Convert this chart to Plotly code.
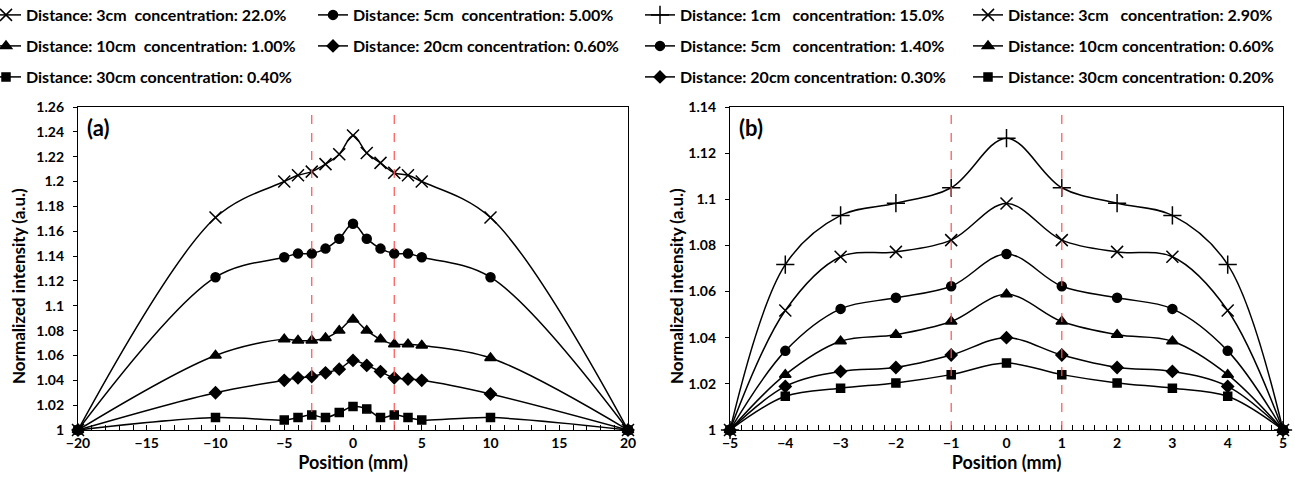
import plotly.graph_objects as go

# ---------------- data (a) ----------------
pos_a = [-20, -10, -5, -4, -3, -2, -1, 0, 1, 2, 3, 4, 5, 10, 20]
a_3cm = [1.0, 1.171, 1.200, 1.205, 1.208, 1.214, 1.222, 1.237, 1.223, 1.215, 1.207, 1.205, 1.200, 1.171, 1.0]
a_5cm = [1.0, 1.123, 1.139, 1.142, 1.142, 1.146, 1.154, 1.166, 1.154, 1.146, 1.142, 1.142, 1.139, 1.123, 1.0]
a_10cm = [1.0, 1.060, 1.073, 1.072, 1.072, 1.074, 1.080, 1.089, 1.080, 1.073, 1.069, 1.069, 1.068, 1.058, 1.0]
a_20cm = [1.0, 1.030, 1.040, 1.042, 1.043, 1.046, 1.049, 1.056, 1.052, 1.047, 1.042, 1.041, 1.040, 1.029, 1.0]
a_30cm = [1.0, 1.010, 1.008, 1.010, 1.012, 1.010, 1.014, 1.019, 1.017, 1.010, 1.012, 1.010, 1.008, 1.010, 1.0]
names_a = [
    "Distance: 3cm\u00a0\u00a0concentration: 22.0%",
    "Distance: 5cm\u00a0\u00a0concentration: 5.00%",
    "Distance: 10cm\u00a0\u00a0concentration: 1.00%",
    "Distance: 20cm concentration: 0.60%",
    "Distance: 30cm concentration: 0.40%",
]
symbols_a = ["x-thin-open", "circle", "triangle-up", "diamond", "square"]
vlines_a = [-3, 3]

# ---------------- data (b) ----------------
pos_b = [-5, -4, -3, -2, -1, 0, 1, 2, 3, 4, 5]
b_1cm = [1.0, 1.0717, 1.0930, 1.0983, 1.1050, 1.1265, 1.1050, 1.0983, 1.0930, 1.0717, 1.0]
b_3cm = [1.0, 1.0518, 1.0751, 1.0772, 1.0823, 1.0982, 1.0823, 1.0772, 1.0751, 1.0518, 1.0]
b_5cm = [1.0, 1.0343, 1.0525, 1.0573, 1.0623, 1.0763, 1.0623, 1.0573, 1.0525, 1.0343, 1.0]
b_10cm = [1.0, 1.0240, 1.0385, 1.0413, 1.0470, 1.0588, 1.0470, 1.0413, 1.0385, 1.0240, 1.0]
b_20cm = [1.0, 1.0189, 1.0254, 1.0271, 1.0325, 1.0400, 1.0325, 1.0271, 1.0254, 1.0189, 1.0]
b_30cm = [1.0, 1.0146, 1.0181, 1.0204, 1.0240, 1.0290, 1.0240, 1.0204, 1.0181, 1.0146, 1.0]
names_b = [
    "Distance: 1cm\u00a0\u00a0\u00a0concentration: 15.0%",
    "Distance: 3cm\u00a0\u00a0\u00a0concentration: 2.90%",
    "Distance: 5cm\u00a0\u00a0\u00a0concentration: 1.40%",
    "Distance: 10cm concentration: 0.60%",
    "Distance: 20cm concentration: 0.30%",
    "Distance: 30cm concentration: 0.20%",
]
symbols_b = ["cross-thin-open", "x-thin-open", "circle", "triangle-up", "diamond", "square"]
vlines_b = [-1, 1]

y_title = "Normalized intensity (a.u.)"
x_title = "Position (mm)"

# ---------------- figure ----------------
W, H = 1295, 481
FONT = "Lato"
fig = go.Figure()

marker_size = {"x-thin-open": 12, "cross-thin-open": 13, "circle": 9,
               "triangle-up": 10, "diamond": 9, "square": 8}

legend_font = dict(family=FONT, size=16, color="black", weight="bold")
row_y = [15, 46, 77]
col_x_a = [-14, 313]
col_x_b = [640, 968]

legend_layout = {}
legend_counter = [0]


def new_legend(xpx, ypx):
    legend_counter[0] += 1
    key = "legend" if legend_counter[0] == 1 else f"legend{legend_counter[0]}"
    legend_layout[key] = dict(orientation="h", x=xpx / W, y=1 - ypx / H, xanchor="left",
                              yanchor="middle", font=legend_font, bgcolor="rgba(0,0,0,0)",
                              itemwidth=30)
    return key


def add_series(x, y, name, sym, xa, ya, legend):
    fig.add_trace(go.Scatter(
        x=x, y=y, name=name, mode="lines+markers", showlegend=True,
        line=dict(color="black", width=1.5, shape="spline", smoothing=1.0),
        marker=dict(symbol=sym, size=marker_size[sym], color="black",
                    line=dict(color="black", width=1.5)),
        xaxis=xa, yaxis=ya, legend=legend, cliponaxis=False,
    ))


series_a = [a_3cm, a_5cm, a_10cm, a_20cm, a_30cm]
for i, (y, n, s) in enumerate(zip(series_a, names_a, symbols_a)):
    lg = new_legend(col_x_a[i % 2], row_y[i // 2])
    add_series(pos_a, y, n, s, "x", "y", lg)

series_b = [b_1cm, b_3cm, b_5cm, b_10cm, b_20cm, b_30cm]
for i, (y, n, s) in enumerate(zip(series_b, names_b, symbols_b)):
    lg = new_legend(col_x_b[i % 2], row_y[i // 2])
    add_series(pos_b, y, n, s, "x2", "y2", lg)

axis_font = dict(family=FONT, size=14, color="black", weight="bold")
title_font = dict(family=FONT, size=18, color="black", weight="bold")

xdom_a = [78 / W, 628 / W]
xdom_b = [730 / W, 1283 / W]
ydom = [1 - 430 / H, 1 - 107 / H]

common_x = dict(showgrid=False, zeroline=False, showline=True, linecolor="black", linewidth=1.3,
                mirror=True, ticks="inside", ticklen=5, tickwidth=1.3, tickcolor="black",
                tickfont=axis_font, title_font=title_font, title_standoff=5)
common_y = dict(showgrid=False, zeroline=False, showline=True, linecolor="black", linewidth=1.3,
                mirror=True, ticks="outside", ticklen=4, tickwidth=1.3, tickcolor="black",
                tickfont=axis_font, ticklabelstandoff=6)

shapes = []
for v in vlines_a:
    shapes.append(dict(type="line", xref="x", yref="y domain", x0=v, x1=v, y0=0, y1=1,
                       line=dict(color="#FF5050", width=1.2, dash="dash"), layer="above"))
for v in vlines_b:
    shapes.append(dict(type="line", xref="x2", yref="y2 domain", x0=v, x1=v, y0=0, y1=1,
                       line=dict(color="#FF5050", width=1.2, dash="dash"), layer="above"))

label_font = dict(family=FONT, size=22, color="black", weight="bold")
ytitle_font = dict(family=FONT, size=17, color="black", weight="bold")

fig.update_layout(
    width=W, height=H, margin=dict(l=0, r=0, t=0, b=0, autoexpand=False),
    paper_bgcolor="white", plot_bgcolor="white", showlegend=True,
    font=dict(family=FONT, color="black"),
    xaxis=dict(domain=xdom_a, anchor="y", range=[-20, 20], dtick=5, tick0=0,
               minor=dict(dtick=1, ticks="inside", ticklen=5, tickcolor="black", tickwidth=1.2),
               title_text=x_title, **common_x),
    yaxis=dict(domain=ydom, anchor="x", range=[1, 1.26], dtick=0.02, tick0=1, **common_y),
    xaxis2=dict(domain=xdom_b, anchor="y2", range=[-5, 5], dtick=1, tick0=0,
                minor=dict(dtick=0.2, ticks="inside", ticklen=5, tickcolor="black", tickwidth=1.2),
                title_text=x_title, **common_x),
    yaxis2=dict(domain=ydom, anchor="x2", range=[1, 1.14], dtick=0.02, tick0=1, **common_y),
    shapes=shapes,
    annotations=[
        dict(text="(a)", xref="x domain", yref="y domain", x=0.012, y=0.935, xanchor="left",
             yanchor="middle", showarrow=False, font=label_font),
        dict(text="(b)", xref="x2 domain", yref="y2 domain", x=0.012, y=0.935, xanchor="left",
             yanchor="middle", showarrow=False, font=label_font),
        dict(text=y_title, xref="paper", yref="paper", x=18 / W, y=1 - 286 / H, textangle=-90,
             xanchor="center", yanchor="middle", showarrow=False, font=ytitle_font),
        dict(text=y_title, xref="paper", yref="paper", x=676 / W, y=1 - 286 / H, textangle=-90,
             xanchor="center", yanchor="middle", showarrow=False, font=ytitle_font),
    ],
)
fig.update_layout(**legend_layout)

fig.write_html("out.html")
